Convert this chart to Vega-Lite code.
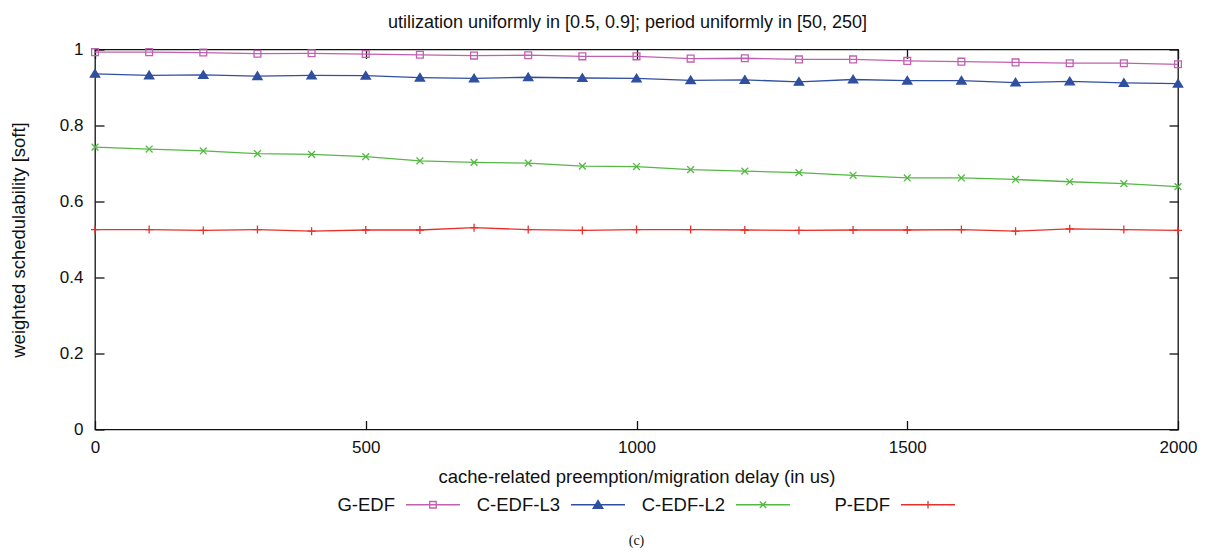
{
  "$schema": "https://vega.github.io/schema/vega-lite/v6.json",
  "width": 1083,
  "height": 380,
  "autosize": {"type": "none"},
  "padding": {"left": 95, "top": 49.5, "right": 31, "bottom": 122.5},
  "background": "white",
  "config": {
    "view": {"stroke": "#111", "strokeWidth": 1.3},
    "font": "Liberation Sans",
    "axis": {
      "grid": false, "domain": false, "tickColor": "#111", "tickWidth": 1.3, "tickSize": -9,
      "labelFont": "Liberation Sans", "labelFontSize": 17, "labelColor": "#111", "labelFlush": false,
      "titleFont": "Liberation Sans", "titleFontSize": 18.5, "titleFontWeight": "normal", "titleColor": "#111"
    },
    "legend": {
      "labelFont": "Liberation Sans", "labelFontSize": 18.5, "labelColor": "#111",
      "orient": "none", "legendX": 310, "legendY": 427, "direction": "horizontal", "columns": 4,
      "labelAlign": "right", "labelOffset": -66, "symbolSize": 2916, "symbolStrokeWidth": 1.3,
      "symbolOpacity": 1, "columnPadding": 13, "gridAlign": "all"
    }
  },
  "title": {"text": "(c)", "orient": "bottom", "anchor": "middle", "font": "Liberation Serif", "fontSize": 14, "fontWeight": "normal", "color": "#111", "offset": 19},
  "data": {"values": [
    {"d": 0, "s": "G-EDF", "v": 0.993}, {"d": 100, "s": "G-EDF", "v": 0.993}, {"d": 200, "s": "G-EDF", "v": 0.992}, {"d": 300, "s": "G-EDF", "v": 0.989}, {"d": 400, "s": "G-EDF", "v": 0.990}, {"d": 500, "s": "G-EDF", "v": 0.988}, {"d": 600, "s": "G-EDF", "v": 0.986}, {"d": 700, "s": "G-EDF", "v": 0.984}, {"d": 800, "s": "G-EDF", "v": 0.985}, {"d": 900, "s": "G-EDF", "v": 0.982}, {"d": 1000, "s": "G-EDF", "v": 0.982}, {"d": 1100, "s": "G-EDF", "v": 0.976}, {"d": 1200, "s": "G-EDF", "v": 0.977}, {"d": 1300, "s": "G-EDF", "v": 0.974}, {"d": 1400, "s": "G-EDF", "v": 0.974}, {"d": 1500, "s": "G-EDF", "v": 0.970}, {"d": 1600, "s": "G-EDF", "v": 0.968}, {"d": 1700, "s": "G-EDF", "v": 0.966}, {"d": 1800, "s": "G-EDF", "v": 0.964}, {"d": 1900, "s": "G-EDF", "v": 0.964}, {"d": 2000, "s": "G-EDF", "v": 0.961},
    {"d": 0, "s": "C-EDF-L3", "v": 0.936}, {"d": 100, "s": "C-EDF-L3", "v": 0.932}, {"d": 200, "s": "C-EDF-L3", "v": 0.933}, {"d": 300, "s": "C-EDF-L3", "v": 0.930}, {"d": 400, "s": "C-EDF-L3", "v": 0.932}, {"d": 500, "s": "C-EDF-L3", "v": 0.931}, {"d": 600, "s": "C-EDF-L3", "v": 0.926}, {"d": 700, "s": "C-EDF-L3", "v": 0.924}, {"d": 800, "s": "C-EDF-L3", "v": 0.927}, {"d": 900, "s": "C-EDF-L3", "v": 0.925}, {"d": 1000, "s": "C-EDF-L3", "v": 0.924}, {"d": 1100, "s": "C-EDF-L3", "v": 0.919}, {"d": 1200, "s": "C-EDF-L3", "v": 0.920}, {"d": 1300, "s": "C-EDF-L3", "v": 0.915}, {"d": 1400, "s": "C-EDF-L3", "v": 0.921}, {"d": 1500, "s": "C-EDF-L3", "v": 0.918}, {"d": 1600, "s": "C-EDF-L3", "v": 0.918}, {"d": 1700, "s": "C-EDF-L3", "v": 0.913}, {"d": 1800, "s": "C-EDF-L3", "v": 0.916}, {"d": 1900, "s": "C-EDF-L3", "v": 0.912}, {"d": 2000, "s": "C-EDF-L3", "v": 0.910},
    {"d": 0, "s": "C-EDF-L2", "v": 0.743}, {"d": 100, "s": "C-EDF-L2", "v": 0.738}, {"d": 200, "s": "C-EDF-L2", "v": 0.733}, {"d": 300, "s": "C-EDF-L2", "v": 0.726}, {"d": 400, "s": "C-EDF-L2", "v": 0.724}, {"d": 500, "s": "C-EDF-L2", "v": 0.718}, {"d": 600, "s": "C-EDF-L2", "v": 0.707}, {"d": 700, "s": "C-EDF-L2", "v": 0.703}, {"d": 800, "s": "C-EDF-L2", "v": 0.701}, {"d": 900, "s": "C-EDF-L2", "v": 0.693}, {"d": 1000, "s": "C-EDF-L2", "v": 0.692}, {"d": 1100, "s": "C-EDF-L2", "v": 0.684}, {"d": 1200, "s": "C-EDF-L2", "v": 0.680}, {"d": 1300, "s": "C-EDF-L2", "v": 0.676}, {"d": 1400, "s": "C-EDF-L2", "v": 0.669}, {"d": 1500, "s": "C-EDF-L2", "v": 0.662}, {"d": 1600, "s": "C-EDF-L2", "v": 0.662}, {"d": 1700, "s": "C-EDF-L2", "v": 0.658}, {"d": 1800, "s": "C-EDF-L2", "v": 0.652}, {"d": 1900, "s": "C-EDF-L2", "v": 0.647}, {"d": 2000, "s": "C-EDF-L2", "v": 0.639},
    {"d": 0, "s": "P-EDF", "v": 0.526}, {"d": 100, "s": "P-EDF", "v": 0.526}, {"d": 200, "s": "P-EDF", "v": 0.524}, {"d": 300, "s": "P-EDF", "v": 0.526}, {"d": 400, "s": "P-EDF", "v": 0.522}, {"d": 500, "s": "P-EDF", "v": 0.525}, {"d": 600, "s": "P-EDF", "v": 0.525}, {"d": 700, "s": "P-EDF", "v": 0.531}, {"d": 800, "s": "P-EDF", "v": 0.526}, {"d": 900, "s": "P-EDF", "v": 0.524}, {"d": 1000, "s": "P-EDF", "v": 0.526}, {"d": 1100, "s": "P-EDF", "v": 0.526}, {"d": 1200, "s": "P-EDF", "v": 0.525}, {"d": 1300, "s": "P-EDF", "v": 0.524}, {"d": 1400, "s": "P-EDF", "v": 0.525}, {"d": 1500, "s": "P-EDF", "v": 0.525}, {"d": 1600, "s": "P-EDF", "v": 0.526}, {"d": 1700, "s": "P-EDF", "v": 0.522}, {"d": 1800, "s": "P-EDF", "v": 0.528}, {"d": 1900, "s": "P-EDF", "v": 0.526}, {"d": 2000, "s": "P-EDF", "v": 0.524}
  ]},
  "layer": [
    {
      "mark": {"type": "line", "strokeWidth": 1.3},
      "encoding": {
        "x": {"field": "d", "type": "quantitative", "scale": {"domain": [0, 2000], "nice": false},
              "axis": {"orient": "bottom", "values": [0, 500, 1000, 1500, 2000], "format": "d", "labelPadding": 19, "title": "cache-related preemption/migration delay (in us)", "titlePadding": 12}},
        "y": {"field": "v", "type": "quantitative", "scale": {"domain": [0, 1], "nice": false},
              "axis": {"orient": "left", "values": [0, 0.2, 0.4, 0.6, 0.8, 1], "format": "~g", "labelPadding": 21, "title": "weighted schedulability [soft]", "titlePadding": 31}},
        "stroke": {"field": "s", "type": "nominal", "scale": {"domain": ["G-EDF", "C-EDF-L3", "C-EDF-L2", "P-EDF"], "range": ["#c160b0", "#2f4fa0", "#55b845", "#e8302a"]}, "legend": null}
      }
    },
    {
      "transform": [{"filter": "datum.s === 'G-EDF'"}],
      "mark": {"type": "point", "strokeWidth": 1.3, "size": 64, "opacity": 1, "filled": false, "shape": "M-0.85,-0.85H0.85V0.85H-0.85Z", "stroke": "#c160b0"},
      "encoding": {
        "x": {"field": "d", "type": "quantitative",
              "axis": {"orient": "top", "values": [0, 500, 1000, 1500, 2000], "labels": false, "title": "utilization uniformly in [0.5, 0.9]; period uniformly in [50, 250]", "titleFontSize": 18, "titlePadding": 17, "titleX": 532}},
        "y": {"field": "v", "type": "quantitative",
              "axis": {"orient": "right", "values": [0, 0.2, 0.4, 0.6, 0.8, 1], "labels": false, "title": null}}
      }
    },
    {
      "transform": [{"filter": "datum.s === 'C-EDF-L3'"}],
      "mark": {"type": "point", "strokeWidth": 1.3, "size": 72, "opacity": 1, "filled": true, "shape": "M0,-1L1.1,0.8H-1.1Z", "fill": "#2f4fa0", "stroke": "#2f4fa0"},
      "encoding": {
        "x": {"field": "d", "type": "quantitative", "axis": null},
        "y": {"field": "v", "type": "quantitative", "axis": null}
      }
    },
    {
      "transform": [{"filter": "datum.s === 'C-EDF-L2'"}],
      "mark": {"type": "point", "strokeWidth": 1.3, "size": 64, "opacity": 1, "filled": false, "shape": "M-0.85,-0.85L0.85,0.85M-0.85,0.85L0.85,-0.85", "stroke": "#55b845"},
      "encoding": {
        "x": {"field": "d", "type": "quantitative", "axis": null},
        "y": {"field": "v", "type": "quantitative", "axis": null}
      }
    },
    {
      "transform": [{"filter": "datum.s === 'P-EDF'"}],
      "mark": {"type": "point", "strokeWidth": 1.3, "size": 64, "opacity": 1, "filled": false, "shape": "M-1,0H1M0,-1V1", "stroke": "#e8302a"},
      "encoding": {
        "x": {"field": "d", "type": "quantitative", "axis": null},
        "y": {"field": "v", "type": "quantitative", "axis": null}
      }
    },
    {
      "transform": [{"filter": "datum.d < 0"}],
      "mark": {"type": "point", "strokeWidth": 1.3, "size": 2916, "opacity": 1},
      "encoding": {
        "x": {"field": "d", "type": "quantitative", "axis": null},
        "y": {"field": "v", "type": "quantitative", "axis": null},
        "stroke": {"field": "s", "type": "nominal", "scale": {"domain": ["G-EDF", "C-EDF-L3", "C-EDF-L2", "P-EDF"], "range": ["#c160b0", "#2f4fa0", "#55b845", "#e8302a"]}, "legend": {"title": null}},
        "fill": {"field": "s", "type": "nominal", "scale": {"domain": ["G-EDF", "C-EDF-L3", "C-EDF-L2", "P-EDF"], "range": ["transparent", "#2f4fa0", "transparent", "transparent"]}, "legend": {"title": null}},
        "shape": {"field": "s", "type": "nominal", "scale": {"domain": ["G-EDF", "C-EDF-L3", "C-EDF-L2", "P-EDF"], "range": ["M-1,0H1M-0.12,-0.12H0.12V0.12H-0.12Z", "M-1,0H1M0,-0.16L0.18,0.13H-0.18Z", "M-1,0H1M-0.12,-0.12L0.12,0.12M-0.12,0.12L0.12,-0.12", "M-1,0H1M0,-0.14V0.14"]}, "legend": {"title": null}}
      }
    }
  ],
  "resolve": {
    "axis": {"x": "independent", "y": "independent"},
    "legend": {"stroke": "independent", "fill": "independent", "shape": "independent"}
  }
}
